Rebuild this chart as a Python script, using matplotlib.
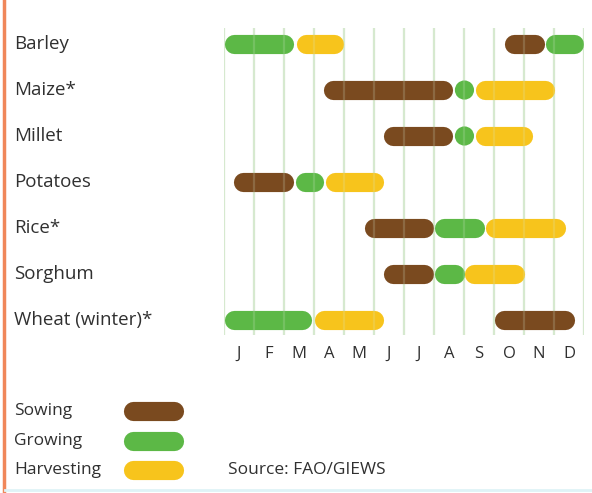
import matplotlib.pyplot as plt
from matplotlib.lines import Line2D
from matplotlib import transforms

plt.rcParams["font.family"] = ["Open Sans", "DejaVu Sans"]

# Crop calendar data (month units, 0 = start of January)
crops = ["Barley", "Maize*", "Millet", "Potatoes", "Rice*", "Sorghum", "Wheat (winter)*"]
months = ["J", "F", "M", "A", "M", "J", "J", "A", "S", "O", "N", "D"]

# (crop index, start, end)
sowing = [(0, 9.35, 10.7), (1, 3.33, 7.63), (2, 5.33, 7.63), (3, 0.33, 2.33),
          (4, 4.67, 6.97), (5, 5.33, 6.97), (6, 9.03, 11.7)]
growing = [(0, 0.0, 2.33), (0, 10.7, 12.0), (1, 7.7, 8.33), (2, 7.7, 8.33),
           (3, 2.37, 3.33), (4, 7.03, 8.67), (5, 7.03, 8.03), (6, 0.0, 2.93)]
harvesting = [(0, 2.4, 4.0), (1, 8.37, 11.03), (2, 8.37, 10.3), (3, 3.37, 5.33),
              (4, 8.7, 11.37), (5, 8.03, 10.03), (6, 3.03, 5.33)]

stages = ["Sowing", "Growing", "Harvesting"]
colors = {"Sowing": "#7a4a1f", "Growing": "#5cb846", "Harvesting": "#f7c41c"}
grid_color = "#d6e9cf"
text_color = "#303030"

W, H = 592, 493
fig = plt.figure(figsize=(W / 100, H / 100), dpi=100)

# main chart axes: x from 224px to 584px, y from 28px to 335px
ax = fig.add_axes([224 / W, 1 - 335 / H, 360 / W, 307 / H])
ax.set_xlim(0, 12)
ax.set_ylim(6.33, -0.35)
for s in ax.spines.values():
    s.set_visible(False)

bar_lw = 13.8  # points, ~19 px
px_per_month = 30.0
r = (bar_lw * 100 / 72) / 2 / px_per_month  # cap radius in months

for k in range(13):
    ax.axvline(k, color=grid_color, lw=1.6, zorder=1)
    ax.axvline(k, color=grid_color, lw=1.6, alpha=0.2, zorder=4)


def draw(segments, color):
    for row, a, b in segments:
        if b - a <= 2 * r + 0.01:
            # short stage: drawn as a dot
            ax.scatter([(a + b) / 2], [row], s=bar_lw ** 2, color=color,
                       edgecolors="none", zorder=2)
        else:
            ax.plot([a + r, b - r], [row, row], color=color, lw=bar_lw,
                    solid_capstyle="round", zorder=2)


draw(sowing, colors["Sowing"])
draw(growing, colors["Growing"])
draw(harvesting, colors["Harvesting"])

ax.set_xticks([k + 0.5 for k in range(12)])
ax.set_xticklabels(months, fontsize=12, color=text_color)
ax.tick_params(axis="x", length=0, pad=8)
ax.set_yticks([])

# crop names on the left
trans = transforms.blended_transform_factory(fig.transFigure, ax.transData)
for i, name in enumerate(crops):
    ax.text(14 / W, i, name, transform=trans, ha="left", va="center",
            fontsize=13.5, color=text_color)

# legend
leg_y = [411, 441, 470]
for name, y in zip(stages, leg_y):
    fy = 1 - y / H
    fig.text(14 / W, fy, name, ha="left", va="center", fontsize=12.5, color=text_color)
    fig.add_artist(Line2D([(123 + 10) / W, (184 - 10) / W], [fy, fy], color=colors[name],
                          lw=bar_lw, solid_capstyle="round"))

fig.text(228 / W, 1 - 470 / H, "Source: FAO/GIEWS", ha="left", va="center",
         fontsize=12.5, color=text_color)

# frame decorations
fig.add_artist(Line2D([4 / W, 4 / W], [0, 1], color="#f0875a", lw=2.5))
fig.add_artist(Line2D([5 / W, 1], [1 - 490 / H, 1 - 490 / H], color="#dff3f7", lw=2))

fig.savefig("out.png", dpi=100)
